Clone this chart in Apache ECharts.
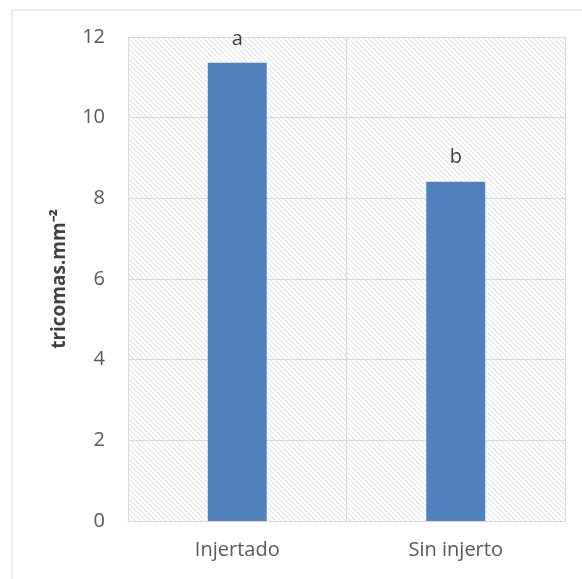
<!DOCTYPE html>
<html>
<head>
<meta charset="utf-8">
<script src="https://cdn.jsdelivr.net/npm/echarts@6/dist/echarts.min.js"></script>
<style>html,body{margin:0;padding:0;background:#fff;}#c{width:582px;height:579px;}</style>
</head>
<body>
<div id="c"></div>
<script>
const categories = ['Injertado', 'Sin injerto'];
const values = [11.36, 8.41];
const letters = ['a', 'b'];
const yTicks = { min: 0, max: 12, interval: 2 };
const yTitle = 'tricomas.mm\u207B\u00B2';

function hatch() {
  const s = 5;
  const cv = document.createElement('canvas');
  cv.width = s; cv.height = s;
  const ctx = cv.getContext('2d');
  ctx.fillStyle = '#ffffff';
  ctx.fillRect(0, 0, s, s);
  ctx.strokeStyle = '#d6d6d6';
  ctx.lineWidth = 0.8;
  ctx.beginPath();
  ctx.moveTo(-1, -1); ctx.lineTo(s + 1, s + 1);
  ctx.moveTo(-1, s - 1); ctx.lineTo(1, s + 1);
  ctx.moveTo(s - 1, -1); ctx.lineTo(s + 1, 1);
  ctx.stroke();
  return cv;
}

const chart = echarts.init(document.getElementById('c'), null, { renderer: 'canvas' });
chart.setOption({
  animation: false,
  backgroundColor: '#ffffff',
  graphic: [{
    type: 'rect', left: 9.5, top: 7.5,
    shape: { width: 580, height: 580 },
    style: { fill: 'none', stroke: '#d9d9d9', lineWidth: 1 },
    silent: true
  }],
  grid: {
    left: 128, right: 17, top: 37, bottom: 58,
    show: true,
    borderWidth: 0,
    backgroundColor: { image: hatch(), repeat: 'repeat' }
  },
  xAxis: {
    type: 'category',
    data: categories,
    axisLine: { show: true, lineStyle: { color: '#d9d9d9', width: 1 } },
    axisTick: { show: false },
    splitLine: { show: true, lineStyle: { color: '#d9d9d9', width: 1 } },
    axisLabel: { color: '#595959', fontSize: 20, fontFamily: 'Open Sans, sans-serif', margin: 19 }
  },
  yAxis: {
    type: 'value',
    min: yTicks.min, max: yTicks.max, interval: yTicks.interval,
    name: yTitle,
    nameLocation: 'middle',
    nameGap: 59,
    nameTextStyle: { color: '#404040', fontSize: 19, fontWeight: 'bold', fontFamily: 'Open Sans, sans-serif' },
    axisLine: { show: false },
    axisTick: { show: false },
    splitLine: { show: true, lineStyle: { color: '#d9d9d9', width: 1 } },
    axisLabel: { color: '#595959', fontSize: 20, fontFamily: 'Open Sans, sans-serif', margin: 23 }
  },
  series: [{
    type: 'bar',
    data: values,
    barWidth: '27%',
    itemStyle: { color: '#4f81bd' },
    label: {
      show: true,
      position: 'top',
      distance: 14,
      color: '#404040',
      fontSize: 20,
      fontFamily: 'Open Sans, sans-serif',
      formatter: p => letters[p.dataIndex]
    }
  }]
});
</script>
</body>
</html>
